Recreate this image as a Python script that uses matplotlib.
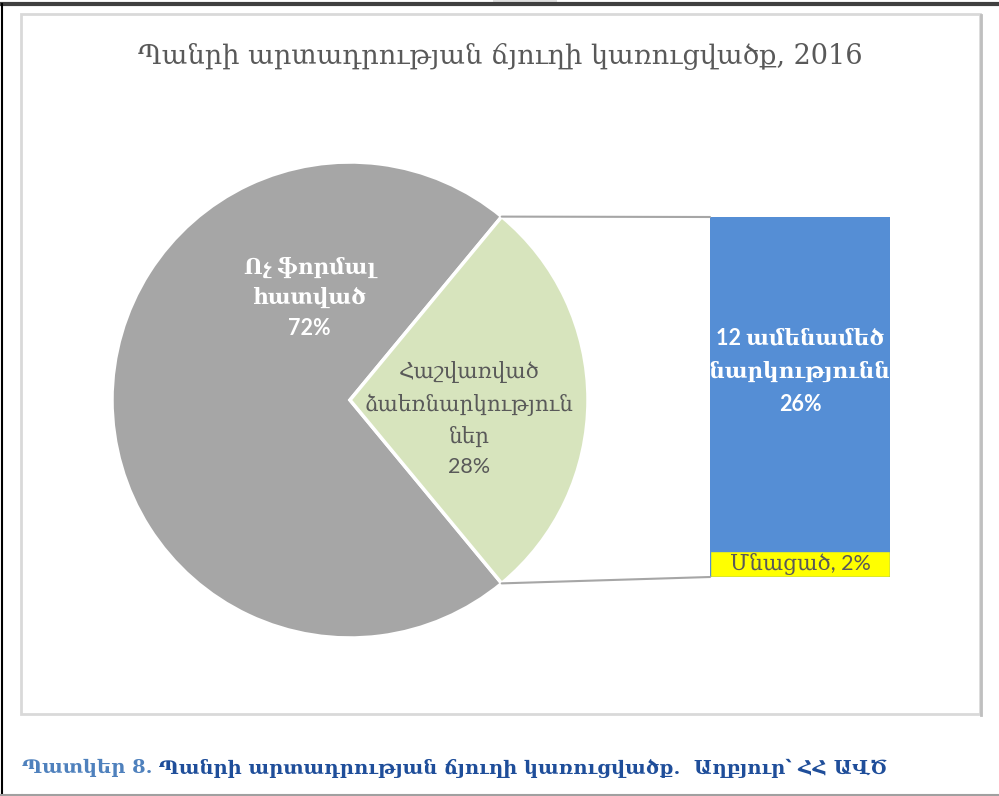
import matplotlib
matplotlib.use("Agg")
import matplotlib.pyplot as plt
from matplotlib.patches import ConnectionPatch, Rectangle
from matplotlib.lines import Line2D
import numpy as np

# ---- data ----
title = "Պանրի արտադրության ճյուղի կառուցվածք, 2016"
pie_labels = ["Ոչ ֆորմալ\nհատված", "Հաշվառված\nձաեռնարկություն\nներ"]
pie_values = [72, 28]
bar_labels = ["Մնացած", "12 ամենամեծ\nձեռնարկությունների"]
bar_values = [2, 26]
caption_a = "Պատկեր 8."
caption_b = " Պանրի արտադրության ճյուղի կառուցվածք.  Աղբյուր՝ ՀՀ ԱՎԾ"

GRAY = "#A6A6A6"
GREEN = "#D7E4BD"
BLUE = "#558ED5"
YELLOW = "#FFFF00"
TXT = "#595959"

W, H = 999, 796
fig = plt.figure(figsize=(W / 100, H / 100), dpi=100)

def fr(x0, y0, x1, y1):
    # pixel box (top-left origin) -> figure fraction rect
    return [x0 / W, 1 - y1 / H, (x1 - x0) / W, (y1 - y0) / H]

# frames
bg = fig.add_axes([0, 0, 1, 1])
bg.set_xlim(0, W); bg.set_ylim(H, 0); bg.axis("off")
bg.add_patch(Rectangle((21, 14), 959, 700, fill=False, ec="#D9D9D9", lw=2))
bg.add_line(Line2D([981, 981], [15, 715], color="#BFBFBF", lw=2))
bg.add_line(Line2D([0, W], [4, 4], color="#404040", lw=3))
bg.add_line(Line2D([1.5, 1.5], [4, H], color="#000000", lw=1.5))
bg.add_line(Line2D([0, W], [795, 795], color="#A0A0A0", lw=1.5))
bg.add_patch(Rectangle((493, 0), 64, 3, color="#E0E0E0", lw=0))

sans_arm = ["Lato", "DejaVu Serif"]

bg.text(500, 57, title, ha="center", va="center", fontsize=19.5,
        color=TXT, family=["DejaVu Serif"])

# pie
half = pie_values[1] / sum(pie_values) * 360 / 2
r = 238
cx, cy = 350, 400
axp = fig.add_axes(fr(cx - r, cy - r, cx + r, cy + r))
wedges, _ = axp.pie(pie_values, colors=[GRAY, GREEN], startangle=half,
                    counterclock=True, radius=1,
                    wedgeprops=dict(edgecolor="white", linewidth=2.5))
axp.set_xlim(-1, 1); axp.set_ylim(-1, 1)
axp.set_aspect("auto")

axp.text(-0.17, 0.43, f"{pie_labels[0]}\n{pie_values[0]}%", ha="center", va="center",
         color="white", fontsize=15.5, fontweight="bold", family=sans_arm,
         linespacing=1.55)
axp.text(0.5, -0.08, f"{pie_labels[1]}\n{pie_values[1]}%", ha="center", va="center",
         color=TXT, fontsize=15.5, family=sans_arm, linespacing=1.6)

# bar
axb = fig.add_axes(fr(710, 217, 890, 577))
axb.bar([0.5], [bar_values[0]], width=1, color=YELLOW, edgecolor=BLUE, linewidth=1)
axb.bar([0.5], [bar_values[1]], bottom=[bar_values[0]], width=1, color=BLUE,
        edgecolor=BLUE, linewidth=0)
axb.set_xlim(0, 1); axb.set_ylim(0, sum(bar_values))
axb.axis("off")
axb.text(0.5, bar_values[0] / 2, f"{bar_labels[0]}, {bar_values[0]}%", ha="center",
         va="center", color=TXT, fontsize=15.5, family=sans_arm)
t = axb.text(0.5, 16.0, f"{bar_labels[1]}\n{bar_values[1]}%", ha="center", va="center",
             color="white", fontsize=15.5, fontweight="bold", family=sans_arm,
             linespacing=1.7, clip_on=True)

# connector lines
a = np.deg2rad(half)
for sgn, yb in [(1, sum(bar_values)), (-1, 0)]:
    con = ConnectionPatch(xyA=(np.cos(a), sgn * np.sin(a)), coordsA=axp.transData,
                          xyB=(0, yb), coordsB=axb.transData,
                          color=GRAY, lw=1.5)
    fig.add_artist(con)

# caption
cap = ["DejaVu Serif"]
ta = bg.text(22, 768, caption_a, ha="left", va="center", fontsize=14,
             color="#4F81BD", family=cap, fontweight="bold")
fig.canvas.draw()
bb = ta.get_window_extent()
x_end = bb.x1
bg.text(x_end, 768, caption_b, ha="left", va="center", fontsize=14,
        color="#1F4E9A", family=cap, fontweight="bold")

fig.savefig("out.png", dpi=100)
